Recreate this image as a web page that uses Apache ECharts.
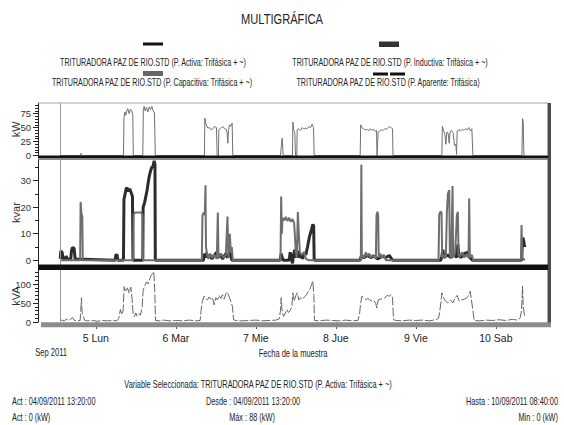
<!DOCTYPE html>
<html><head><meta charset="utf-8">
<script src="https://cdn.jsdelivr.net/npm/echarts@6/dist/echarts.min.js"></script>
<style>html,body{margin:0;padding:0;background:#fff}#c{width:564px;height:425px}</style>
</head><body><div id="c"></div>
<script>
const FONT = "'Liberation Sans', Arial, sans-serif";
const titleText = 'MULTIGRÁFICA';
const seriesNames = [
  'TRITURADORA PAZ DE RIO.STD (P. Activa: Trifásica + ~)',
  'TRITURADORA PAZ DE RIO.STD (P. Inductiva: Trifásica + ~)',
  'TRITURADORA PAZ DE RIO.STD (P. Capacitiva: Trifásica + ~)',
  'TRITURADORA PAZ DE RIO.STD (P. Aparente: Trifásica)'
];
// x values: hours since 04/09/2011 00:00
const xMin = 6.667, xMax = 159.333;
const cursorHour = 13.333;
const dayTicks = [24, 48, 72, 96, 120, 144];
const dayLabels = ['5 Lun', '6 Mar', '7 Mie', '8 Jue', '9 Vie', '10 Sab'];
const monthLabel = 'Sep 2011';
const xAxisName = 'Fecha de la muestra';
const kwLabels = [0, 25, 50, 75];
const kwTicks = [0,5,10,15,20,25,30,35,40,45,50,55,60,65,70,75,80,85,90];
const kvarLabels = [0, 10, 20, 30];
const kvarTicks = [0,5,10,15,20,25,30,35];
const kvaLabels = [0, 50, 100];
const kvaTicks = [0,10,20,30,40,50,60,70,80,90,100,110,120,130];
const footer = {
  variable: 'Variable Seleccionada: TRITURADORA PAZ DE RIO.STD (P. Activa: Trifásica + ~)',
  act1: 'Act : 04/09/2011 13:20:00', desde: 'Desde : 04/09/2011 13:20:00', hasta: 'Hasta : 10/09/2011 08:40:00',
  act2: 'Act : 0 (kW)', max: 'Máx : 88 (kW)', min: 'Min : 0 (kW)'
};

const activaKW = [
[13.33,0],[19.4,0],[19.6,4],[19.8,0],
[32.3,0],[32.45,68],[32.7,78],[33.0,72],[33.3,80],[33.6,84],[34.0,75],[34.4,83],[34.8,80],[35.1,72],[35.25,0],
[38.1,0],[38.25,82],[38.5,88],[38.8,80],[39.2,86],[39.6,78],[40.0,87],[40.4,82],[40.8,88],[41.2,80],[41.6,76],[41.85,0],
[56.6,0],[56.7,67],[57.1,55],[57.6,49],[58.1,50],[58.6,46],[59.1,48],[59.6,52],[60.2,50],[60.4,0],[60.8,0],[60.9,46],[61.5,49],[62.1,52],[62.6,48],[63.1,47],[63.4,40],[63.6,22],[63.8,45],[64.1,55],[64.5,52],[64.9,58],[65.1,0],
[79.4,0],[79.7,20],[79.9,31],[80.2,0],
[83.0,0],[83.1,60],[83.4,45],[83.7,40],[83.9,0],[84.3,0],[84.4,46],[84.9,48],[85.4,45],[85.9,50],[86.4,47],[86.9,49],[87.4,48],[87.9,52],[88.4,50],[88.9,56],[89.3,50],[89.5,0],
[103.3,0],[103.45,55],[103.8,50],[104.3,48],[104.8,46],[105.3,47],[105.8,44],[106.3,48],[106.8,45],[107.3,47],[107.8,43],[108.2,45],[108.35,0],[108.55,0],[108.7,42],[109.2,44],[109.7,46],[110.2,45],[110.7,48],[111.2,47],[111.7,50],[112.2,52],[112.7,49],[113.0,48],[113.15,0],
[127.8,0],[127.95,52],[128.3,45],[128.7,38],[129.0,20],[129.3,42],[129.7,40],[130.0,22],[130.3,43],[130.7,45],[131.2,40],[131.6,18],[132.0,20],[132.2,2],[132.4,44],[132.9,46],[133.4,44],[133.9,47],[134.4,45],[134.9,48],[135.4,46],[135.9,50],[136.4,44],[136.8,48],[137.1,0],
[151.8,0],[152.0,66],[152.2,60],[152.4,0],[152.67,0]
];

const inductivaKvar = [
[13.33,0.5],[13.5,3.5],[13.9,3],[14.2,0.5],[14.9,0.5],[15.1,1.6],[15.4,0.5],[16.5,0.5],[16.7,3.5],[17.0,4.8],[17.5,4.5],[17.8,0.5],
[29.8,0],[30.0,2],[30.4,2],[30.6,0],
[32.3,0],[32.45,23],[32.8,25],[33.1,27],[33.4,27.3],[33.8,26],[34.2,27],[34.6,25.5],[35.0,24],[35.15,0],
[38.1,0],[38.2,20],[38.6,21.5],[39.0,24],[39.4,26.5],[39.8,30],[40.1,32],[40.5,34],[40.8,35],[41.2,35.5],[41.5,37.5],[41.75,36],[41.85,0],
[56.3,0],[56.5,2.5],[56.8,1],[57.2,2.8],[57.6,1],[58.4,2],[58.8,0.5],[60.2,3],[60.6,1],[61.5,2],[62.0,0.5],[63.0,2.5],[63.5,1],[64.2,3],[64.8,0],
[79.3,0],[79.6,2.5],[79.9,1],[80.2,0],[82.0,0],[82.3,3],[82.6,1],[83.0,-1.2],[83.3,2],[83.7,4],[84.0,1],[84.5,3.5],[85.0,1],[85.5,2.5],[86.0,0.5],[86.6,3],[87.0,2],[87.5,5],[88.1,9],[88.6,11],[89.1,13.5],[89.35,13],[89.5,0],
[103.3,0],[103.6,1.5],[104.5,1],[105.5,1.8],[106.5,1],[107.5,1.6],[108.5,0.5],[110,1.5],[111,1],[112,1.8],[113,0],
[127.5,0],[127.8,1.5],[128.1,4],[128.4,1],[129.5,2],[130.5,1],[131.5,2.5],[132.2,1],[132.6,6],[132.9,2],[133.5,1],[134.5,2.5],[135.6,3],[136.2,1],[137.0,0],
[151.7,0],[151.9,5],[152.1,8.5],[152.3,7.5],[152.5,6],[152.67,5]
];

const capacitivaKvar = [
[13.33,0],[19.3,0],[19.45,22],[19.7,17.5],[19.95,16.5],[20.1,0],
[35.2,0],[35.35,17],[35.7,18],[37.6,18],[38.0,17],[38.15,0],
[55.8,0],[56.0,17],[56.4,18],[56.7,17],[56.9,28.3],[57.05,5],[57.4,2],[57.8,0.5],[58.3,2.5],[58.8,1],[59.5,2],[60.3,0.5],[60.6,18],[60.8,1],[61.5,2.5],[62.3,1],[63.0,2],[63.5,16.5],[63.75,1],[64.2,10],[64.5,3],[64.8,5],[65.1,0],
[79.4,0],[79.6,24],[79.8,10],[80.0,16],[80.5,15],[81.0,16.3],[81.5,14.8],[82.0,16],[82.5,14.5],[83.0,15.5],[83.5,14],[84.0,3],[84.3,1],[84.6,18.3],[84.9,10],[85.2,3],[85.8,2],[86.5,3],[87.0,0.5],[88,0],
[103.5,0],[103.65,36],[103.8,0.5],[104.2,2],[104.6,1],[105.0,3],[105.5,1.5],[106.0,2.5],[106.5,1],[107.0,2],[108.0,0.5],[108.2,17],[108.5,18.3],[108.7,17],[108.85,1],[109.3,2.5],[109.8,1],[110.4,2],[111,0],
[126.8,0],[127.0,17],[127.3,18.3],[127.7,18],[127.9,1],[128.5,2],[129.0,1],[129.3,18],[129.6,25],[130.0,26.5],[130.2,2],[130.6,1],[131.0,28],[131.2,1],[131.8,3],[132.3,17],[132.6,18.3],[132.8,2],[133.3,1.5],[133.9,3],[134.5,1],[135.0,2],[135.8,1],[136.0,23.3],[136.2,1],[136.8,2],[137.2,0],
[151.5,0],[151.7,13.3],[151.9,1],[152.67,0]
];

const aparenteKVA = [
[13.33,3],[13.8,5],[14.5,3],[15.2,8],[15.8,4],[16.4,6],[17.0,12],[17.6,4],[18.4,3],[19.3,4],[19.5,30],[19.7,64],[19.9,24],[20.2,17],[20.6,5],[21.5,3],[23,4],[24.5,2],[26,4],[27.5,3],[29,4],[30.3,3],[30.9,10],[31.4,33],[31.8,20],[32.2,30],
[32.5,93],[33.0,80],[33.5,90],[34.0,76],[34.5,92],[34.9,60],[35.2,20],[35.6,14],[36.0,24],[36.4,15],[36.9,22],[37.4,18],[37.9,40],
[38.2,84],[38.7,95],[39.2,106],[39.7,100],[40.2,115],[40.7,124],[41.1,128],[41.4,133],[41.7,80],[41.9,4],
[43,3],[44.5,5],[46,3],[48,4],[50,3],[52,5],[54,3],[55.3,4],
[55.6,33],[56.0,55],[56.5,68],[57.0,62],[57.5,58],[58.0,66],[58.5,60],[59.0,64],[59.5,45],[60.0,64],[60.5,58],[61.0,70],[61.5,62],[62.0,72],[62.5,60],[63.0,74],[63.5,79],[64.0,66],[64.5,55],[65.0,40],[65.3,6],
[66,4],[68,3],[70,4],[72,5],[74,3],[76,4],[78,5],[79.0,8],
[79.4,30],[79.6,64],[79.9,28],[80.3,15],[80.8,22],[81.3,33],[81.8,25],[82.3,30],[82.8,40],[83.1,77],[83.5,55],[84.0,70],[84.4,77],[84.9,58],[85.4,64],[86.0,60],[86.6,66],[87.2,72],[87.7,80],[88.2,86],[88.7,98],[89.1,108],[89.4,70],[89.6,4],
[91,3],[93,5],[95,4],[97,3],[99,5],[101,3],[102.6,4],
[103.1,20],[103.4,46],[103.8,68],[104.4,64],[105.0,59],[105.6,62],[106.2,58],[106.8,55],[107.4,57],[108.0,48],[108.3,37],[108.7,58],[109.3,60],[110.0,62],[110.7,64],[111.4,70],[112.0,68],[112.6,72],[113.0,64],[113.3,6],
[114,4],[116,3],[118,5],[120,4],[122,5],[124,3],[126,6],[126.8,10],
[127.1,24],[127.5,50],[127.8,77],[128.3,64],[128.9,55],[129.6,50],[130.4,58],[131.1,50],[131.8,64],[132.4,70],[133.0,55],[133.7,58],[134.5,60],[135.3,64],[136.0,72],[136.3,81],[136.8,50],[137.2,24],[137.5,4],
[139,3],[141,5],[143,4],[145,6],[147,4],[149,7],[150.5,5],[151.3,11],[151.7,30],[152.0,95],[152.2,40],[152.67,12]
];

const chart = echarts.init(document.getElementById('c'), null, {renderer: 'svg'});

const grids = [
  {left: 38, right: 17, top: 103, height: 52.5, containLabel: false, outerBoundsMode: 'none'},
  {left: 38, right: 17, top: 160, height: 105, containLabel: false, outerBoundsMode: 'none'},
  {left: 38, right: 17, top: 270, height: 52, containLabel: false, outerBoundsMode: 'none'}
];
const yRanges = [[0, 94], [-1.8, 37.8], [0, 137]];
const yNames = ['kW', 'kvar', 'kVA'];
const yLabelSets = [kwLabels, kvarLabels, kvaLabels];
const yTickSets = [kwTicks, kvarTicks, kvaTicks];

const xAxes = grids.map((g, i) => ({
  type: 'value', gridIndex: i, min: xMin, max: xMax, scale: true,
  show: i === 2,
  axisLine: {show: false, onZero: false},
  splitLine: {show: false},
  axisTick: {show: i === 2, customValues: dayTicks, length: 7, lineStyle: {color: '#555'}},
  axisLabel: {show: i === 2, customValues: dayTicks, margin: 10, align: 'center',
    fontFamily: FONT, fontSize: 10.5, color: '#222',
    formatter: v => {
      const k = dayTicks.findIndex(t => Math.abs(t - v) < 0.01);
      return k >= 0 ? dayLabels[k] : '';
    }}
}));

const yAxes = [];
grids.forEach((g, i) => {
  yAxes.push({
    type: 'value', gridIndex: i, position: 'left', min: yRanges[i][0], max: yRanges[i][1],
    axisLine: {show: true, onZero: false, lineStyle: {color: '#222', width: 1}},
    splitLine: {show: false},
    axisTick: {show: true, customValues: yLabelSets[i], length: 5, lineStyle: {color: '#222'}},
    axisLabel: {customValues: yLabelSets[i], margin: 7, fontFamily: FONT, fontSize: 9.5, color: '#333'},
    name: yNames[i], nameLocation: 'middle', nameGap: 17, nameMoveOverlap: false,
    nameTextStyle: {fontFamily: FONT, fontSize: 11, color: '#333'}
  });
  yAxes.push({
    type: 'value', gridIndex: i, position: 'left', offset: 0, min: yRanges[i][0], max: yRanges[i][1],
    axisLine: {show: false, onZero: false}, splitLine: {show: false},
    axisTick: {show: true, customValues: yTickSets[i], length: 3, lineStyle: {color: '#222'}},
    axisLabel: {show: false}
  });
});

const cursor = {
  silent: true, symbol: 'none', label: {show: false}, animation: false,
  lineStyle: {color: '#9a9a9a', width: 1, type: 'solid'},
  data: [{xAxis: cursorHour}]
};

const series = [
  {name: seriesNames[0], type: 'line', xAxisIndex: 0, yAxisIndex: 0, data: activaKW, showSymbol: false,
   lineStyle: {color: '#707070', width: 1}, itemStyle: {color: '#111'}, markLine: cursor},
  {name: seriesNames[1], type: 'line', xAxisIndex: 1, yAxisIndex: 2, data: inductivaKvar, showSymbol: false,
   lineStyle: {color: '#2c2c2c', width: 3}, itemStyle: {color: '#333'}, markLine: cursor},
  {name: seriesNames[2], type: 'line', xAxisIndex: 1, yAxisIndex: 2, data: capacitivaKvar, showSymbol: false,
   lineStyle: {color: '#6e6e6e', width: 2}, itemStyle: {color: '#666'}},
  {name: seriesNames[3], type: 'line', xAxisIndex: 2, yAxisIndex: 4, data: aparenteKVA, showSymbol: false,
   lineStyle: {color: '#666', width: 1, type: [9, 2]}, itemStyle: {color: '#111'}, markLine: cursor}
];

function txt(text, x, y, align, size, sx) {
  return {type: 'text', x: x, y: y, scaleX: sx, silent: true,
    style: {text: text, x: 0, y: 0, fill: '#222', font: size + 'px ' + FONT, textAlign: align, textVerticalAlign: 'middle'}};
}

const graphic = [
  // frame
  {type: 'rect', silent: true, z: 10, shape: {x: 38, y: 102.5, width: 510, height: 1}, style: {fill: '#a8a8a8'}},
  {type: 'rect', silent: true, z: 10, shape: {x: 547.5, y: 103, width: 3.5, height: 224}, style: {fill: '#4a4a4a'}},
  {type: 'rect', silent: true, z: 10, shape: {x: 38, y: 155.5, width: 510, height: 3}, style: {fill: '#111'}},
  {type: 'rect', silent: true, z: 10, shape: {x: 38, y: 158.5, width: 510, height: 1.5}, style: {fill: '#8a8a8a'}},
  {type: 'rect', silent: true, z: 10, shape: {x: 38, y: 264.5, width: 510, height: 5.5}, style: {fill: '#111'}},
  {type: 'rect', silent: true, z: 10, shape: {x: 41, y: 322.3, width: 510, height: 5}, style: {fill: '#8c8c8c'}},
  // legend icons
  {type: 'rect', silent: true, shape: {x: 143, y: 42.5, width: 20, height: 3}, style: {fill: '#111'}},
  {type: 'rect', silent: true, shape: {x: 379, y: 41.5, width: 20, height: 5.5}, style: {fill: '#333'}},
  {type: 'rect', silent: true, shape: {x: 143, y: 71, width: 20, height: 5}, style: {fill: '#666'}},
  {type: 'rect', silent: true, shape: {x: 373, y: 72.5, width: 15, height: 3}, style: {fill: '#111'}},
  {type: 'rect', silent: true, shape: {x: 390, y: 72.5, width: 15, height: 3}, style: {fill: '#111'}},
  // title
  txt(titleText, 282, 19, 'center', 15, 0.74),
  // legend texts
  txt(seriesNames[0], 153, 62, 'center', 11, 0.65),
  txt(seriesNames[1], 390, 62, 'center', 11, 0.65),
  txt(seriesNames[2], 152, 82, 'center', 11, 0.65),
  txt(seriesNames[3], 388, 82, 'center', 11, 0.65),
  // axis extras
  txt(monthLabel, 67, 353, 'right', 10.5, 0.72),
  txt(xAxisName, 293, 354, 'center', 10.5, 0.72),
  // footer
  txt(footer.variable, 258, 385, 'center', 10.5, 0.7),
  txt(footer.act1, 12, 402, 'left', 10.5, 0.7),
  txt(footer.desde, 253, 402, 'center', 10.5, 0.7),
  txt(footer.hasta, 558, 402, 'right', 10.5, 0.7),
  txt(footer.act2, 12, 418, 'left', 10.5, 0.7),
  txt(footer.max, 252, 418, 'center', 10.5, 0.7),
  txt(footer.min, 558, 418, 'right', 10.5, 0.7)
];

chart.setOption({
  animation: false,
  backgroundColor: '#fff',
  grid: grids,
  xAxis: xAxes,
  yAxis: yAxes,
  series: series,
  graphic: graphic
});
</script></body></html>
